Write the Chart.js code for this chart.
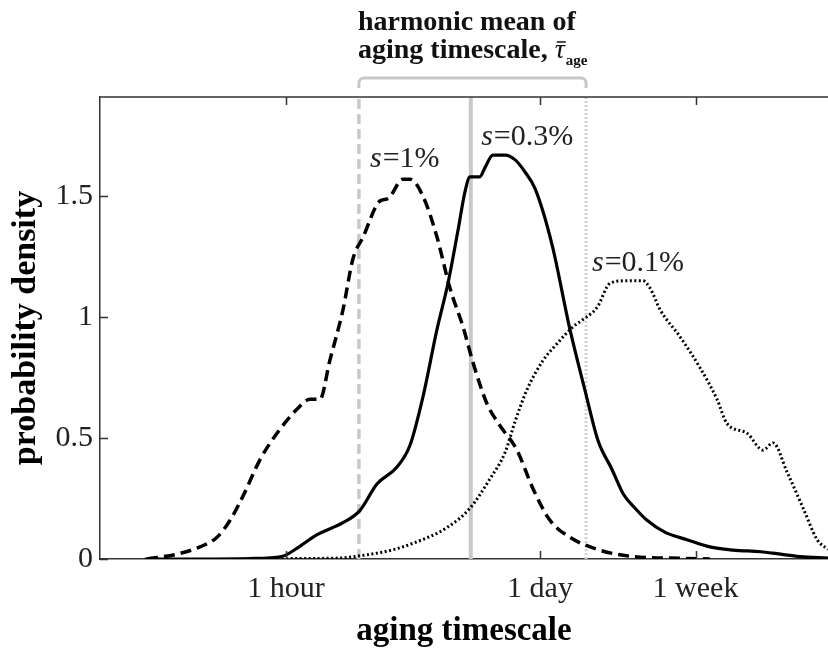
<!DOCTYPE html>
<html>
<head>
<meta charset="utf-8">
<title>Aging timescale distribution</title>
<script src="https://cdn.jsdelivr.net/npm/chart.js@4.4.0/dist/chart.umd.min.js"></script>
<style>
    html, body { margin: 0; padding: 0; background: #fff; }
    #wrap { width: 828px; height: 652px; }
</style>
</head>
<body>
<div id="wrap"><canvas id="agingChart" width="828" height="652"></canvas></div>
<script>
// === Data (aging timescale in hours, probability density) ===
const s1Hours = [0.176, 0.256, 0.341, 0.422, 0.497, 0.584, 0.722, 0.894, 1.15, 1.35, 1.53, 1.73, 2.04, 2.31, 2.62, 3.24, 3.58, 4.32, 4.72, 5.55, 6.62, 7.78, 9.16, 10.4, 12.4, 14.6, 18.0, 22.0, 27.2, 34.9, 49.0, 76.9, 138, 201];
const s1Density = [0, 0.02, 0.05, 0.09, 0.16, 0.26, 0.41, 0.52, 0.62, 0.66, 0.66, 0.82, 1.03, 1.24, 1.33, 1.48, 1.49, 1.57, 1.57, 1.50, 1.33, 1.12, 0.96, 0.81, 0.64, 0.55, 0.45, 0.29, 0.16, 0.09, 0.04, 0.01, 0.003, 0];

const s03Hours = [0.171, 0.341, 0.637, 0.819, 0.99, 1.15, 1.47, 2.04, 2.52, 3.12, 4.01, 4.72, 5.55, 6.62, 7.59, 8.61, 9.40, 10.0, 11.3, 12.1, 13.3, 15.5, 17.6, 19.9, 22.6, 27.9, 34.9, 42.7, 49.6, 59.1, 67.9, 78.9, 91.6, 115, 151, 201, 269, 380, 466, 620, 882];
const s03Density = [0, 0, 0.002, 0.005, 0.015, 0.045, 0.10, 0.15, 0.20, 0.31, 0.38, 0.47, 0.67, 0.95, 1.14, 1.36, 1.52, 1.58, 1.58, 1.62, 1.67, 1.67, 1.65, 1.60, 1.53, 1.30, 0.95, 0.68, 0.49, 0.37, 0.27, 0.21, 0.16, 0.11, 0.08, 0.05, 0.037, 0.03, 0.022, 0.01, 0.004];

const s01Hours = [0.8, 1.19, 1.96, 2.62, 3.67, 4.90, 7.50, 10.0, 12.8, 15.5, 17.6, 20.4, 24.9, 29.7, 36.3, 41.1, 49.0, 57.7, 69.6, 87.1, 95.1, 108, 138, 178, 220, 249, 320, 391, 443, 528, 646, 769, 882];
const s01Density = [0, 0.002, 0.004, 0.015, 0.035, 0.065, 0.13, 0.21, 0.33, 0.44, 0.57, 0.70, 0.82, 0.89, 0.96, 0.99, 1.04, 1.14, 1.15, 1.15, 1.12, 1.03, 0.92, 0.79, 0.66, 0.56, 0.52, 0.45, 0.48, 0.36, 0.21, 0.08, 0.04];

// harmonic means for s=1%, 0.3%, 0.1%
const harmonicMeanHours = [2.49, 10.1, 42.7];

const curveNames = ['1%', '0.3%', '0.1%'];
const curveLabelHours = [2.86, 11.5, 46];
const curveLabelDensity = [1.62, 1.71, 1.19];

const xTickHours = [1, 24, 168];
const xTickLabels = ['1 hour', '1 day', '1 week'];
const yTicks = [0, 0.5, 1, 1.5];
const yTickLabels = ['0', '0.5', '1', '1.5'];

const xMin = 0.0976, xMax = 881.5;
const yMin = 0, yMax = 1.91;

// === Styles ===
const serif = '"Liberation Serif", "Times New Roman", serif';
const axisColor = '#333';
const refGray = '#c8c8c8';

function toPoints(xs, ys) {
    return xs.map((x, i) => ({ x: x, y: ys[i] }));
}

function vLine(h) {
    return [{ x: h, y: yMin }, { x: h, y: yMax }];
}

// inside tick marks, top frame line, curve labels and the bracket annotation
const decorations = {
    id: 'decorations',
    afterDraw(chart) {
        const ctx = chart.ctx;
        const area = chart.chartArea;
        const xs = chart.scales.x;
        const ys = chart.scales.y;

        ctx.save();
        ctx.strokeStyle = axisColor;
        ctx.lineWidth = 1.5;
        ctx.beginPath();
        ctx.moveTo(area.left, area.top);
        ctx.lineTo(area.right, area.top);
        xTickHours.forEach(h => {
            const px = Math.round(xs.getPixelForValue(h)) + 0.5;
            ctx.moveTo(px, area.bottom);
            ctx.lineTo(px, area.bottom - 8);
            ctx.moveTo(px, area.top);
            ctx.lineTo(px, area.top + 8);
        });
        yTicks.forEach(v => {
            const py = Math.round(ys.getPixelForValue(v)) + 0.5;
            ctx.moveTo(area.left, py);
            ctx.lineTo(area.left + 8, py);
        });
        ctx.stroke();

        // curve labels: italic s, upright rest
        ctx.fillStyle = '#222';
        ctx.textBaseline = 'alphabetic';
        ctx.textAlign = 'left';
        curveNames.forEach((name, i) => {
            const px = xs.getPixelForValue(curveLabelHours[i]);
            const py = ys.getPixelForValue(curveLabelDensity[i]);
            ctx.font = 'italic 30px ' + serif;
            ctx.fillText('s', px, py);
            const w = ctx.measureText('s').width;
            ctx.font = '30px ' + serif;
            ctx.fillText('=' + name, px + w + 1, py);
        });

        // bracket spanning the harmonic means
        const bl = xs.getPixelForValue(harmonicMeanHours[0]);
        const br = xs.getPixelForValue(harmonicMeanHours[2]);
        const by = area.top - 19;
        const r = 5;
        ctx.strokeStyle = refGray;
        ctx.lineWidth = 3;
        ctx.beginPath();
        ctx.moveTo(bl, area.top - 9);
        ctx.lineTo(bl, by + r);
        ctx.arcTo(bl, by, bl + r, by, r);
        ctx.lineTo(br - r, by);
        ctx.arcTo(br, by, br, by + r, r);
        ctx.lineTo(br, area.top - 9);
        ctx.stroke();

        // header text
        ctx.fillStyle = '#111';
        ctx.font = 'bold 28px ' + serif;
        const tx = 358;
        ctx.fillText('harmonic mean of', tx, 30);
        const line2 = 'aging timescale, ';
        ctx.fillText(line2, tx, 58);
        let cx = tx + ctx.measureText(line2).width;
        ctx.font = 'italic 28px ' + serif;
        ctx.fillText('τ', cx, 58);
        const tw = ctx.measureText('τ').width;
        ctx.lineWidth = 1.5;
        ctx.strokeStyle = '#111';
        ctx.beginPath();
        ctx.moveTo(cx + 2, 42);
        ctx.lineTo(cx + tw + 1, 42);
        ctx.stroke();
        ctx.font = 'bold 15px ' + serif;
        ctx.fillText('age', cx + tw + 1, 65);
        ctx.restore();
    }
};

const ctx = document.getElementById('agingChart').getContext('2d');
const agingChart = new Chart(ctx, {
    type: 'line',
    data: {
        datasets: [
            {
                label: 's=0.3%',
                data: toPoints(s03Hours, s03Density),
                borderColor: '#000',
                borderWidth: 3.2,
                cubicInterpolationMode: 'monotone'
            },
            {
                label: 's=1%',
                data: toPoints(s1Hours, s1Density),
                borderColor: '#000',
                borderWidth: 3.5,
                borderDash: [11, 6],
                cubicInterpolationMode: 'monotone'
            },
            {
                label: 's=0.1%',
                data: toPoints(s01Hours, s01Density),
                borderColor: '#000',
                borderWidth: 3,
                borderDash: [2, 2.5],
                cubicInterpolationMode: 'monotone'
            },
            {
                label: 'mean s=1%',
                data: vLine(harmonicMeanHours[0]),
                borderColor: refGray,
                borderWidth: 3.5,
                borderDash: [10, 5]
            },
            {
                label: 'mean s=0.3%',
                data: vLine(harmonicMeanHours[1]),
                borderColor: refGray,
                borderWidth: 4
            },
            {
                label: 'mean s=0.1%',
                data: vLine(harmonicMeanHours[2]),
                borderColor: '#d0d0d0',
                borderWidth: 3,
                borderDash: [2, 2]
            }
        ]
    },
    options: {
        responsive: false,
        animation: false,
        devicePixelRatio: 1,
        elements: {
            point: { radius: 0 },
            line: { tension: 0, fill: false, borderCapStyle: 'butt' }
        },
        layout: {
            padding: { top: 97, right: 0, left: 0, bottom: 0 }
        },
        plugins: {
            legend: { display: false },
            tooltip: { enabled: false }
        },
        scales: {
            x: {
                type: 'logarithmic',
                min: xMin,
                max: xMax,
                afterBuildTicks: (scale) => {
                    scale.ticks = xTickHours.map(v => ({ value: v }));
                },
                afterFit: (scale) => { scale.height = 93; },
                ticks: {
                    autoSkip: false,
                    maxRotation: 0,
                    padding: 12,
                    color: '#222',
                    font: { family: serif, size: 30 },
                    callback: (value) => {
                        const i = xTickHours.indexOf(value);
                        return i >= 0 ? xTickLabels[i] : '';
                    }
                },
                grid: { display: false, drawTicks: false },
                border: { display: true, color: axisColor, width: 1.5 },
                title: {
                    display: true,
                    text: 'aging timescale',
                    color: '#000',
                    font: { family: serif, size: 33, weight: 'bold' },
                    padding: { top: 0, bottom: 1 }
                }
            },
            y: {
                min: yMin,
                max: yMax,
                afterBuildTicks: (scale) => {
                    scale.ticks = yTicks.map(v => ({ value: v }));
                },
                afterFit: (scale) => { scale.width = 100; },
                ticks: {
                    padding: 7,
                    color: '#222',
                    font: { family: serif, size: 30 },
                    callback: (value) => {
                        const i = yTicks.indexOf(value);
                        return i >= 0 ? yTickLabels[i] : '';
                    }
                },
                grid: { display: false, drawTicks: false },
                border: { display: true, color: axisColor, width: 1.5 },
                title: {
                    display: true,
                    text: 'probability density',
                    color: '#000',
                    font: { family: serif, size: 34, weight: 'bold' },
                    padding: { top: 6, bottom: 0 }
                }
            }
        }
    },
    plugins: [decorations]
});
</script>
</body>
</html>
